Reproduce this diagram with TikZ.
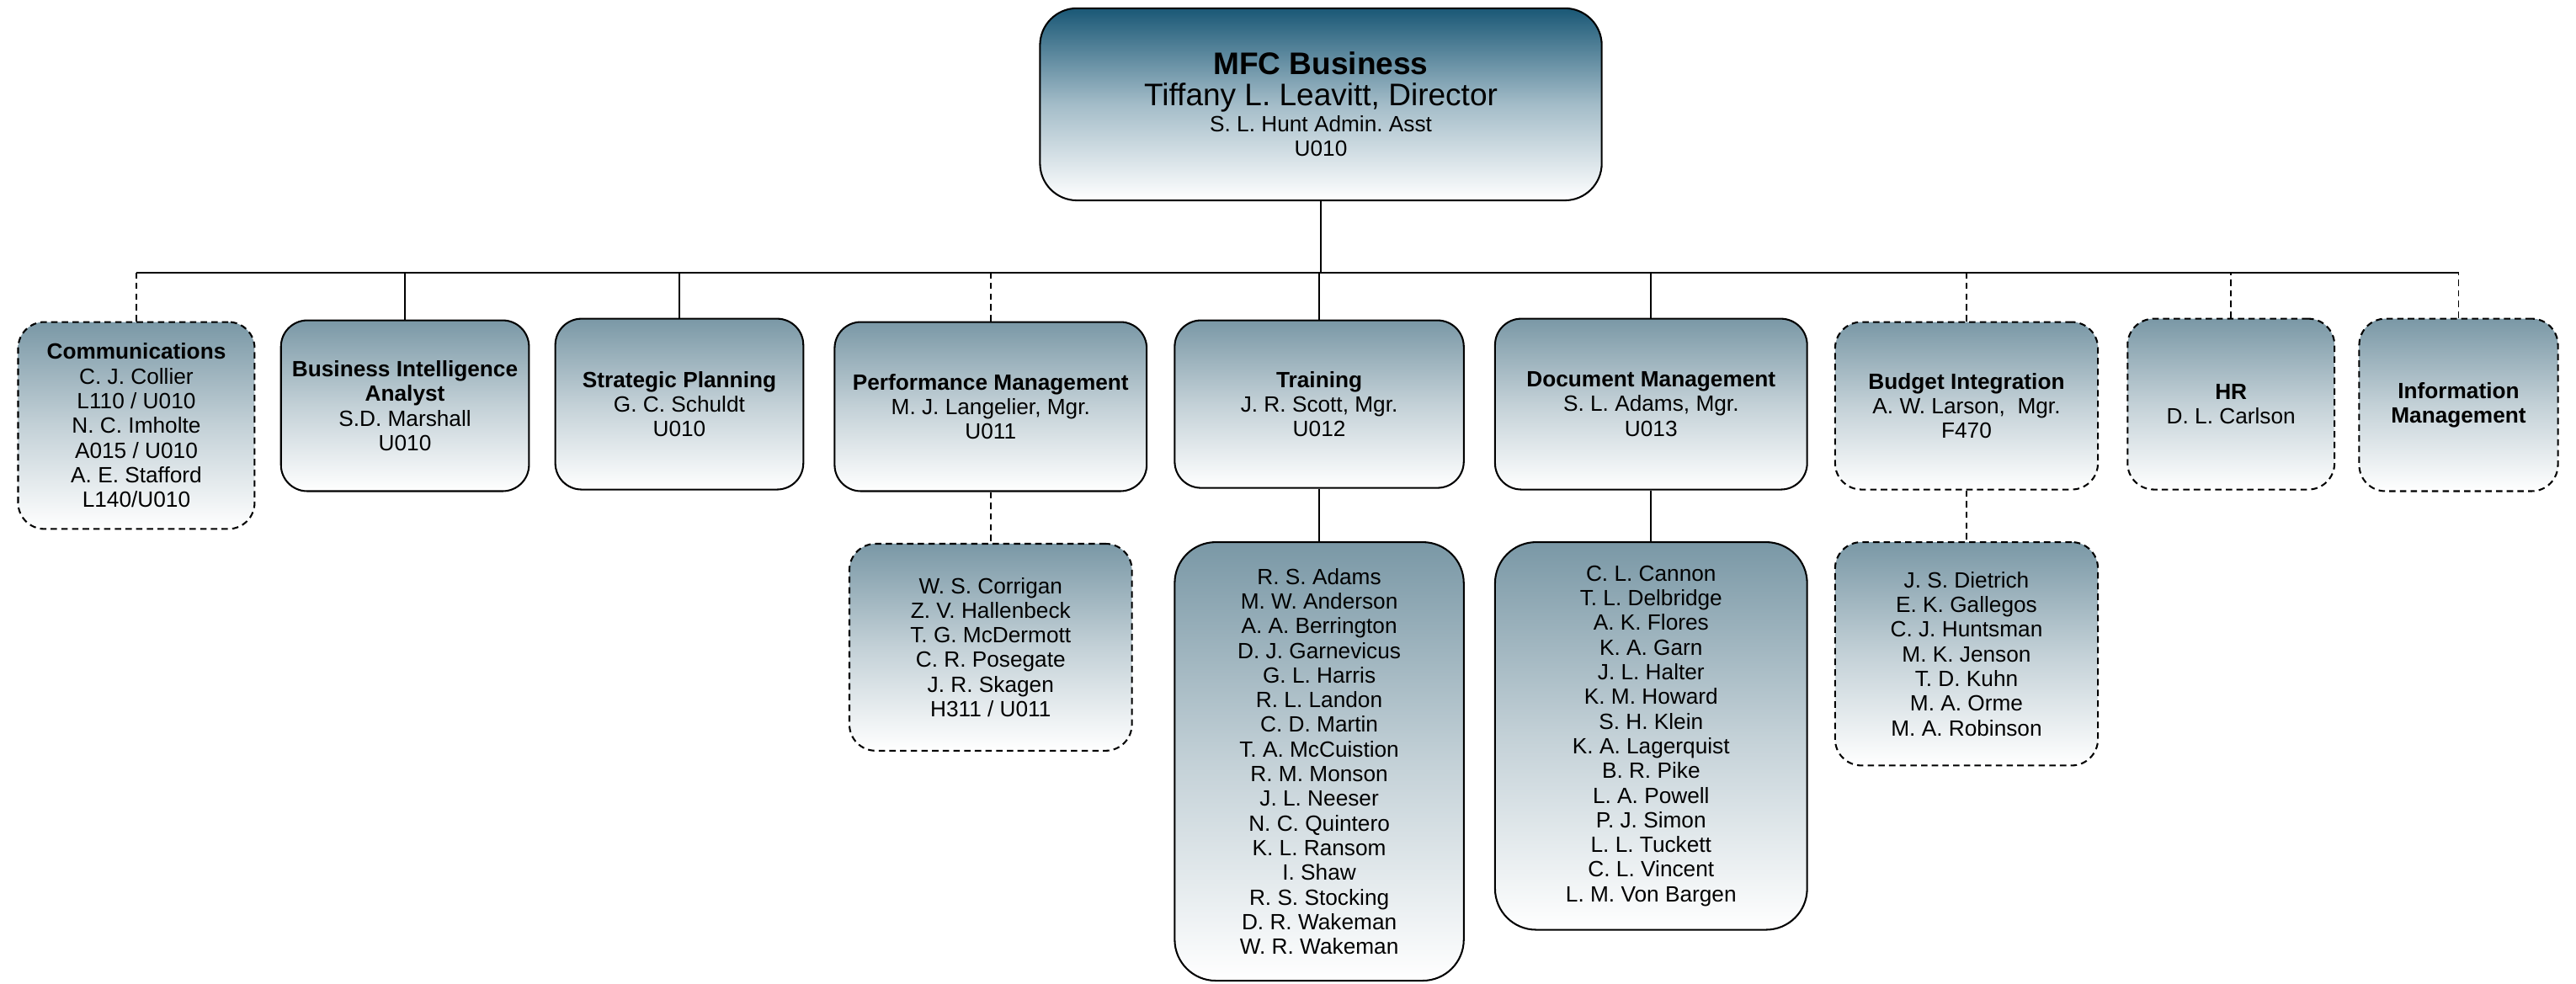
\documentclass[tikz,border=0pt]{standalone}
\usepackage{fontspec}
\setmainfont{Liberation Sans}
\frenchspacing
\definecolor{headtop}{RGB}{26,88,118}
\definecolor{unittop}{RGB}{122,152,166}

\begin{document}
\begin{tikzpicture}[x=0.02cm,y=-0.02cm,
    headbox/.style={draw,line width=0.6pt,rounded corners=0.45cm,align=center,inner sep=0pt,
        top color=headtop,bottom color=white,middle color=headtop!40!white,
        minimum width=6.84cm,minimum height=2.34cm,font=\fontsize{10.8}{10.8}\selectfont},
    unitbox/.style={draw,line width=0.6pt,rounded corners=0.32cm,align=center,inner sep=0pt,
        top color=unittop,bottom color=white,middle color=unittop!45!white,
        font=\fontsize{7.65}{8.55}\selectfont},
    dotbox/.style={unitbox,dash pattern=on 2.2pt off 1.5pt},
    link/.style={line width=0.5pt},
    dotlink/.style={link,dash pattern=on 2.2pt off 1.5pt}]

    \useasboundingbox (0,0) rectangle (1568,599);

    \node[headbox] (mfc) at (804,63.5) {\textbf{MFC Business}\\Tiffany L. Leavitt, Director\\[-1.7pt]
        {\fontsize{7.65}{8.55}\selectfont S. L. Hunt Admin. Asst}\\[-2.3pt]
        {\fontsize{7.65}{8.55}\selectfont U010}};
    \coordinate (bus) at (804,166);

    \node[dotbox,minimum width=2.88cm,minimum height=2.52cm] (comm) at (83,259)
        {\textbf{Communications}\\C. J. Collier\\L110 / U010\\N. C. Imholte\\A015 / U010\\A. E. Stafford\\L140/U010};
    \node[unitbox,minimum width=3.02cm,minimum height=2.08cm] (bia) at (246.5,247)
        {\textbf{Business Intelligence}\\\textbf{Analyst}\\S.D. Marshall\\U010};
    \node[unitbox,minimum width=3.02cm,minimum height=2.08cm] (strat) at (413.5,246)
        {\textbf{Strategic Planning}\\G. C. Schuldt\\U010};
    \node[unitbox,minimum width=3.8cm,minimum height=2.06cm] (perf) at (603,247.5)
        {\textbf{Performance Management}\\M. J. Langelier, Mgr.\\U011};
    \node[unitbox,minimum width=3.52cm,minimum height=2.04cm] (train) at (803,246)
        {\textbf{Training}\\J. R. Scott, Mgr.\\U012};
    \node[unitbox,minimum width=3.8cm,minimum height=2.08cm] (docm) at (1005,246)
        {\textbf{Document Management}\\S. L. Adams, Mgr.\\U013};
    \node[dotbox,minimum width=3.2cm,minimum height=2.04cm] (budg) at (1197,247)
        {\textbf{Budget Integration}\\A. W. Larson,\ \ Mgr.\\F470};
    \node[dotbox,minimum width=2.52cm,minimum height=2.08cm] (hr) at (1358,246)
        {\textbf{HR}\\D. L. Carlson};
    \node[dotbox,minimum width=2.42cm,minimum height=2.1cm] (info) at (1496.5,246.5)
        {\textbf{Information}\\\textbf{Management}};

    \node[dotbox,minimum width=3.44cm,minimum height=2.52cm] (perfst) at (603,394)
        {W. S. Corrigan\\Z. V. Hallenbeck\\T. G. McDermott\\C. R. Posegate\\J. R. Skagen\\H311 / U011};
    \node[unitbox,rounded corners=0.5cm,minimum width=3.52cm,minimum height=5.34cm] (trainst) at (803,463.5)
        {R. S. Adams\\M. W. Anderson\\A. A. Berrington\\D. J. Garnevicus\\G. L. Harris\\R. L. Landon\\C. D. Martin\\T. A. McCuistion\\R. M. Monson\\J. L. Neeser\\N. C. Quintero\\K. L. Ransom\\I. Shaw\\R. S. Stocking\\D. R. Wakeman\\W. R. Wakeman};
    \node[unitbox,rounded corners=0.5cm,minimum width=3.8cm,minimum height=4.72cm] (docmst) at (1005,448)
        {C. L. Cannon\\T. L. Delbridge\\A. K. Flores\\K. A. Garn\\J. L. Halter\\K. M. Howard\\S. H. Klein\\K. A. Lagerquist\\B. R. Pike\\L. A. Powell\\P. J. Simon\\L. L. Tuckett\\C. L. Vincent\\L. M. Von Bargen};
    \node[dotbox,minimum width=3.2cm,minimum height=2.72cm] (budgst) at (1197,398)
        {J. S. Dietrich\\E. K. Gallegos\\C. J. Huntsman\\M. K. Jenson\\T. D. Kuhn\\M. A. Orme\\M. A. Robinson};

    \draw[link] (mfc.south) -- (bus);
    \draw[link] (comm.north |- bus) -- (info.north |- bus);
    \draw[dotlink] (comm.north) -- (comm.north |- bus);
    \draw[link] (bia.north) -- (bia.north |- bus);
    \draw[link] (strat.north) -- (strat.north |- bus);
    \draw[dotlink] (perf.north) -- (perf.north |- bus);
    \draw[link] (train.north) -- (train.north |- bus);
    \draw[link] (docm.north) -- (docm.north |- bus);
    \draw[dotlink] (budg.north) -- (budg.north |- bus);
    \draw[dotlink] (hr.north) -- (hr.north |- bus);
    \draw[dotlink] (info.north) -- (info.north |- bus);

    \draw[dotlink] (perf.south) -- (perfst.north);
    \draw[link] (train.south) -- (trainst.north);
    \draw[link] (docm.south) -- (docmst.north);
    \draw[dotlink] (budg.south) -- (budgst.north);
\end{tikzpicture}
\end{document}
